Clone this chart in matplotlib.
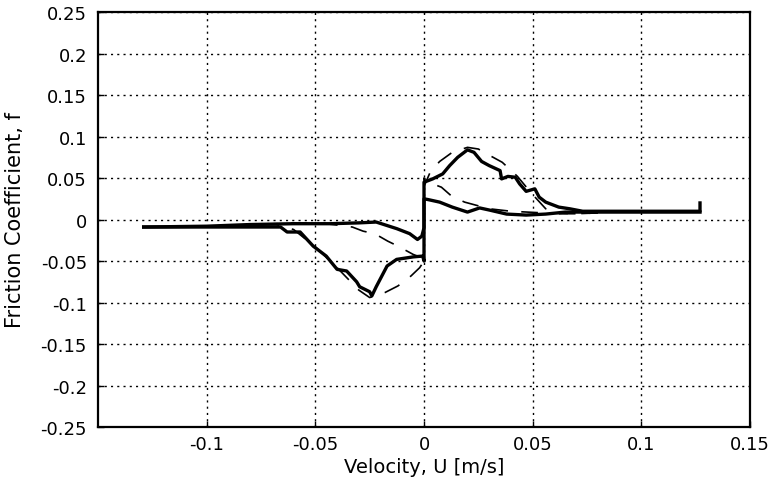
import matplotlib
matplotlib.use("Agg")
import matplotlib.pyplot as plt

# Measured friction coefficient: velocity sweep upward (neg -> pos)
u_meas_up = [-0.129, -0.100, -0.080, -0.060, -0.043, -0.030, -0.022, -0.0125, -0.0066,
             -0.003, -0.001, 0.000, 0.000, 0.000, 0.004, 0.0086, 0.0118, 0.0155, 0.020,
             0.023, 0.0265, 0.030, 0.035, 0.0357, 0.0386, 0.042, 0.044, 0.047, 0.051,
             0.053, 0.056, 0.062, 0.067, 0.073, 0.090, 0.110, 0.127, 0.127]
f_meas_up = [-0.009, -0.008, -0.006, -0.005, -0.005, -0.004, -0.003, -0.011, -0.017,
             -0.024, -0.020, -0.010, 0.025, 0.045, 0.049, 0.055, 0.065, 0.075, 0.084,
             0.081, 0.070, 0.065, 0.059, 0.049, 0.052, 0.051, 0.043, 0.034, 0.037,
             0.027, 0.021, 0.015, 0.013, 0.010, 0.010, 0.010, 0.010, 0.020]

# Measured friction coefficient: velocity sweep downward (pos -> neg)
u_meas_down = [0.127, 0.100, 0.080, 0.065, 0.056, 0.047, 0.038, 0.030, 0.0256, 0.020,
               0.013, 0.0072, 0.002, 0.000, 0.000, -0.0006, -0.005, -0.0126, -0.017,
               -0.022, -0.024, -0.025, -0.0296, -0.031, -0.0356, -0.040, -0.045, -0.051,
               -0.057, -0.063, -0.066, -0.080, -0.100, -0.129]
f_meas_down = [0.009, 0.009, 0.009, 0.009, 0.0066, 0.0054, 0.0066, 0.0115, 0.014, 0.009,
               0.015, 0.021, 0.024, 0.025, -0.050, -0.044, -0.045, -0.048, -0.056,
               -0.081, -0.092, -0.087, -0.081, -0.075, -0.062, -0.060, -0.044, -0.032,
               -0.015, -0.015, -0.009, -0.009, -0.009, -0.009]

# Model prediction (dashed), upward and downward branches
u_model_up = [-0.075, -0.060, -0.045, -0.033, -0.028, -0.0227, -0.0167, -0.012, -0.005,
              0.0, 0.0, 0.003, 0.0072, 0.013, 0.020, 0.025, 0.029, 0.036, 0.043, 0.049,
              0.056, 0.062, 0.070, 0.080]
f_model_up = [-0.006, -0.004, -0.005, -0.009, -0.014, -0.017, -0.026, -0.032, -0.042,
              -0.047, 0.040, 0.058, 0.070, 0.081, 0.087, 0.085, 0.079, 0.069, 0.052, 0.033,
              0.013, 0.007, 0.007, 0.008]

u_model_down = [0.080, 0.070, 0.055, 0.040, 0.030, 0.0187, 0.0128, 0.008, 0.001, 0.0,
                0.0, -0.002, -0.006, -0.012, -0.018, -0.025, -0.030, -0.040, -0.050,
                -0.060, -0.068, -0.080]
f_model_down = [0.008, 0.007, 0.008, 0.010, 0.013, 0.021, 0.028, 0.039, 0.046, 0.050,
                -0.050, -0.058, -0.068, -0.080, -0.088, -0.094, -0.085, -0.058, -0.033,
                -0.012, -0.006, -0.006]

x_ticks = [-0.1, -0.05, 0, 0.05, 0.1, 0.15]
x_tick_labels = ["-0.1", "-0.05", "0", "0.05", "0.1", "0.15"]
y_ticks = [0.25, 0.2, 0.15, 0.1, 0.05, 0, -0.05, -0.1, -0.15, -0.2, -0.25]
y_tick_labels = ["0.25", "0.2", "0.15", "0.1", "0.05", "0", "-0.05", "-0.1", "-0.15",
                 "-0.2", "-0.25"]

plt.rcParams["font.family"] = ["DejaVu Sans"]

fig = plt.figure(figsize=(7.78, 4.85), dpi=100)
ax = fig.add_axes([0.126, 0.1175, 0.838, 0.8555])

ax.plot(u_model_up, f_model_up, color="black", lw=1.2, dashes=(10, 8))
ax.plot(u_model_down, f_model_down, color="black", lw=1.2, dashes=(10, 8))
ax.plot(u_meas_up, f_meas_up, color="black", lw=2.4, solid_joinstyle="round")
ax.plot(u_meas_down, f_meas_down, color="black", lw=2.4, solid_joinstyle="round")

ax.set_xlim(-0.15, 0.15)
ax.set_ylim(-0.25, 0.25)
ax.set_xticks(x_ticks)
ax.set_xticklabels(x_tick_labels)
ax.set_yticks(y_ticks)
ax.set_yticklabels(y_tick_labels)
ax.tick_params(axis="y", direction="in", length=4, width=1, labelsize=13, pad=8)
ax.tick_params(axis="x", direction="in", length=4, width=1, labelsize=13, pad=6)
ax.grid(True, color="black", linestyle=(0, (1.5, 3)), linewidth=1.0)
for s in ax.spines.values():
    s.set_linewidth(1.6)
    s.set_color("black")

ax.set_xlabel("Velocity, U [m/s]", fontsize=14)
ax.set_ylabel("Friction Coefficient, f", fontsize=15)
ax.xaxis.set_label_coords(0.5, -0.072)
ax.yaxis.set_label_coords(-0.112, 0.5)

fig.savefig("out.png", dpi=100)
